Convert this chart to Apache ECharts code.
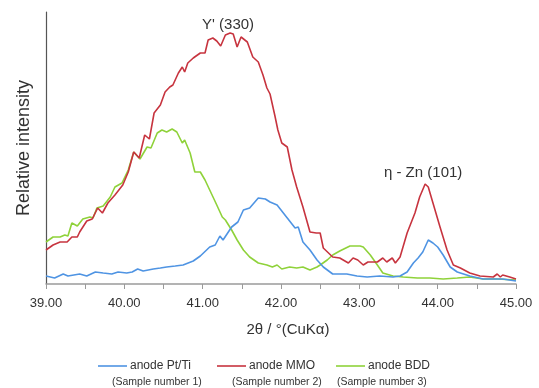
<!DOCTYPE html>
<html>
<head>
<meta charset="utf-8">
<script src="https://cdn.jsdelivr.net/npm/echarts@6/dist/echarts.min.js"></script>
<style>
html,body{margin:0;padding:0;background:#fff;}
#chart{width:539px;height:388px;}
</style>
</head>
<body>
<div id="chart"></div>
<script>
// 2θ positions and relative intensities (arbitrary units)
var mmoX = [39.00,39.09,39.18,39.27,39.33,39.40,39.43,39.52,39.59,39.66,39.72,39.79,39.88,39.98,40.05,40.12,40.19,40.26,40.32,40.38,40.46,40.52,40.58,40.62,40.69,40.74,40.77,40.81,40.88,40.97,41.03,41.07,41.13,41.18,41.23,41.29,41.35,41.39,41.44,41.49,41.57,41.64,41.71,41.77,41.82,41.86,41.92,41.96,42.01,42.08,42.14,42.20,42.28,42.37,42.45,42.50,42.54,42.66,42.75,42.86,42.92,42.98,43.05,43.11,43.23,43.30,43.35,43.42,43.46,43.52,43.61,43.71,43.77,43.84,43.88,43.94,44.03,44.12,44.20,44.29,44.41,44.54,44.71,44.76,44.80,44.83,44.92,45.00];
var mmoY = [34,39,42,42,47,47,52,63,65,76,71,81,89,99,112,132,126,149,145,171,179,192,197,199,211,217,212,221,226,231,231,244,246,243,238,249,251,250,237,247,242,227,222,209,196,190,169,154,141,137,114,97,77,52,51,51,36,27,26,21,26,24,19,22,22,26,22,26,21,27,51,71,87,100,97,81,57,34,19,16,11,8,7,10,7,9,7,5];

var ptX = [39.00,39.11,39.22,39.28,39.43,39.52,39.63,39.73,39.84,39.92,40.03,40.10,40.17,40.24,40.37,40.46,40.54,40.65,40.75,40.88,40.97,41.09,41.16,41.22,41.26,41.37,41.45,41.52,41.60,41.71,41.80,41.86,41.95,42.03,42.12,42.18,42.22,42.28,42.37,42.46,42.54,42.66,42.84,42.97,43.10,43.26,43.43,43.52,43.61,43.69,43.75,43.81,43.88,43.94,44.00,44.07,44.16,44.25,44.41,44.58,44.83,45.00];
var ptY = [8,6,10,8,10,8,12,11,10,12,11,12,15,13,15,16,17,18,19,23,28,37,39,48,44,57,62,74,76,86,85,82,79,71,62,56,57,42,34,24,17,10,10,8,7,8,7,8,12,21,26,32,44,41,37,29,17,12,8,5,5,3];

var bddX = [39.00,39.09,39.18,39.24,39.28,39.33,39.40,39.47,39.56,39.60,39.65,39.73,39.82,39.88,39.97,40.05,40.12,40.20,40.29,40.34,40.42,40.48,40.54,40.61,40.67,40.74,40.77,40.84,40.90,40.97,41.03,41.09,41.18,41.25,41.29,41.31,41.37,41.44,41.52,41.60,41.71,41.82,41.89,41.95,42.01,42.11,42.20,42.28,42.37,42.46,42.50,42.59,42.66,42.75,42.88,43.01,43.05,43.14,43.23,43.30,43.43,43.56,43.74,43.90,44.07,44.25,44.41,44.58,44.76,45.00];
var bddY = [42,47,47,49,48,61,58,65,67,66,76,78,87,97,101,114,132,125,137,136,151,154,152,155,152,141,144,131,112,112,104,94,79,67,64,66,54,44,34,27,21,19,17,19,15,17,16,17,14,17,19,24,29,33,38,38,37,29,19,11,8,7,6,6,5,6,7,5,5,4];

var seriesNames = ['anode Pt/Ti', 'anode MMO', 'anode BDD'];
var sampleLabels = ['(Sample number 1)', '(Sample number 2)', '(Sample number 3)'];
var peakLabels = ["Y' (330)", 'η - Zn (101)'];
var peakCoords = [[41.35, 251], [43.84, 100]];
var xTicks = [39, 40, 41, 42, 43, 44, 45];

function pairs(xs, ys) { return xs.map(function (x, i) { return [x, ys[i]]; }); }

var colors = ['#4f94e3', '#c7343f', '#8fd23a'];
var font = '"Liberation Sans", Arial, sans-serif';

var chart = echarts.init(document.getElementById('chart'), null, {renderer: 'canvas'});
var legendLefts = [98, 217, 336];
var subCenters = [160, 280, 385];

chart.setOption({
  backgroundColor: '#ffffff',
  animation: false,
  textStyle: {fontFamily: font},
  grid: {left: 46, right: 23, top: 12, bottom: 104},
  legend: seriesNames.map(function (n, i) {
    return {
      data: [n], left: legendLefts[i], top: 360, padding: 0,
      icon: 'rect', itemWidth: 29, itemHeight: 1.6,
      textStyle: {fontSize: 12, color: '#333', fontFamily: font, padding: [0, 0, 0, -2]}
    };
  }),
  graphic: sampleLabels.map(function (t, i) {
    return {
      type: 'text', left: subCenters[i] - 48, top: 377,
      style: {text: t, fontSize: 10.5, fill: '#333', fontFamily: font, width: 96, align: 'center'}
    };
  }),
  xAxis: {
    type: 'value', min: xTicks[0], max: xTicks[xTicks.length - 1], interval: 1,
    name: '2θ / °(CuKα)', nameLocation: 'middle', nameGap: 38,
    nameTextStyle: {fontSize: 15, color: '#333', fontFamily: font, padding: [0, 0, 0, 14]},
    axisLine: {show: true, lineStyle: {color: '#9a9a9a', width: 1.5}},
    axisTick: {show: true, length: 5, lineStyle: {color: '#9a9a9a'}},
    minorTick: {show: true, splitNumber: 2, length: 5, lineStyle: {color: '#9a9a9a'}},
    axisLabel: {fontSize: 13, color: '#333', margin: 13, fontFamily: font,
      formatter: function (v) { return v.toFixed(2); }},
    splitLine: {show: false}
  },
  yAxis: {
    type: 'value', min: 0, max: 272,
    name: 'Relative intensity', nameLocation: 'middle', nameGap: 13,
    nameTextStyle: {fontSize: 18, color: '#333', fontFamily: font},
    axisLine: {show: true, lineStyle: {color: '#555', width: 1.2}},
    axisTick: {show: false}, axisLabel: {show: false}, splitLine: {show: false}
  },
  series: [
    {name: seriesNames[0], type: 'line', data: pairs(ptX, ptY), symbol: 'none',
     lineStyle: {color: colors[0], width: 1.6}, itemStyle: {color: colors[0]}, z: 3},
    {name: seriesNames[1], type: 'line', data: pairs(mmoX, mmoY), symbol: 'none',
     lineStyle: {color: colors[1], width: 1.6}, itemStyle: {color: colors[1]}, z: 2,
     markPoint: {
       symbol: 'circle', symbolSize: 0, silent: true,
       label: {show: true, position: 'inside', fontSize: 15, color: '#333', fontFamily: font},
       data: [
         {coord: peakCoords[0], label: {formatter: peakLabels[0], offset: [-2, -8]}},
         {coord: peakCoords[1], label: {formatter: peakLabels[1], offset: [-2, -11]}}
       ]
     }},
    {name: seriesNames[2], type: 'line', data: pairs(bddX, bddY), symbol: 'none',
     lineStyle: {color: colors[2], width: 1.6}, itemStyle: {color: colors[2]}, z: 1}
  ]
});
</script>
</body>
</html>
